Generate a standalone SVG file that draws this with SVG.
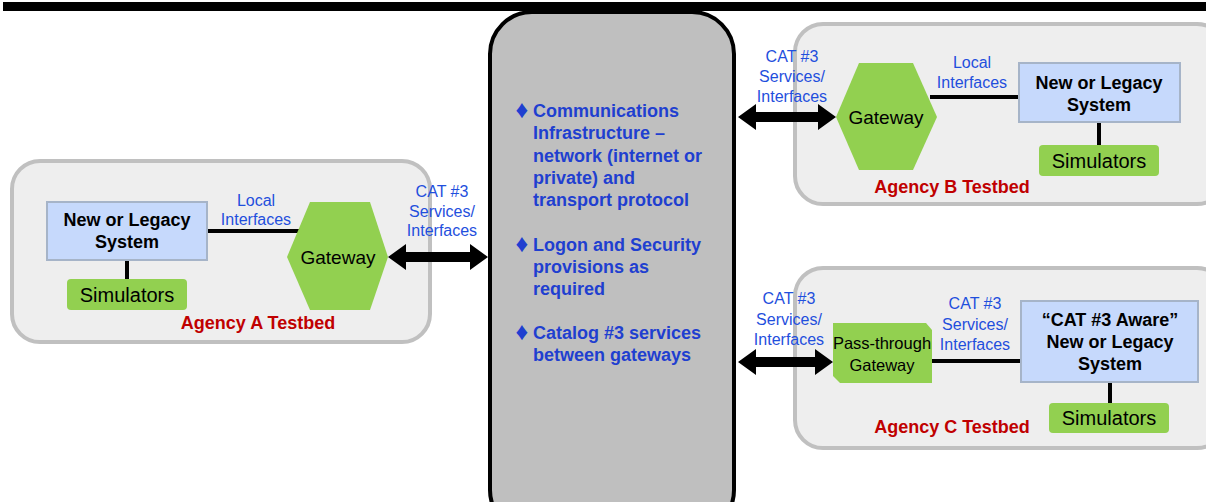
<svg xmlns="http://www.w3.org/2000/svg" width="1206" height="502" viewBox="0 0 1206 502">
<style>
text{font-family:"Liberation Sans",Arial,sans-serif;text-anchor:middle;dominant-baseline:central}
.tb{fill:#eeeeee;stroke:#c0c0c0;stroke-width:4}
.sys{fill:#c6d9fc;stroke:#a6b4c8;stroke-width:2}
.sim{fill:#92d050}
.gw{fill:#92d050}
.ln{stroke:#000;stroke-width:4;fill:none}
.arr{fill:#000}
.b{font-weight:bold;font-size:18px;fill:#000}
.gwt{font-size:19px;fill:#000}
.simt{font-size:20px;fill:#000}
.blue{font-size:16px;fill:#1f4fdd}
.red{font-size:18px;font-weight:bold;fill:#c00000}
.ct{font-size:18px;font-weight:bold;fill:#1f3fd0;text-anchor:start}
.bul{font-size:25px;fill:#1f3fd0;text-anchor:middle}
</style>
<rect x="3" y="2" width="1203" height="9" fill="#000"/>

<g id="agencyA">
<rect class="tb" x="12" y="161" width="418" height="181" rx="28"/>
<text class="red" x="258" y="323">Agency A Testbed</text>
</g>
<g id="agencyB">
<rect class="tb" x="795" y="24" width="430" height="180" rx="28"/>
<text class="red" x="952" y="187">Agency B Testbed</text>
</g>
<g id="agencyC">
<rect class="tb" x="795" y="268" width="430" height="180" rx="28"/>
<text class="red" x="952" y="427">Agency C Testbed</text>
</g>

<g id="center">
<rect x="490" y="12" width="244" height="520" rx="42" fill="#bfbfbf" stroke="#000" stroke-width="4"/>
<text class="bul" x="522" y="109">♦</text>
<text class="ct" x="533" y="111">Communications</text>
<text class="ct" x="533" y="133">Infrastructure –</text>
<text class="ct" x="533" y="156">network (internet or</text>
<text class="ct" x="533" y="178">private) and</text>
<text class="ct" x="533" y="200">transport protocol</text>
<text class="bul" x="522" y="243">♦</text>
<text class="ct" x="533" y="245">Logon and Security</text>
<text class="ct" x="533" y="267">provisions as</text>
<text class="ct" x="533" y="289">required</text>
<text class="bul" x="522" y="331">♦</text>
<text class="ct" x="533" y="333">Catalog #3 services</text>
<text class="ct" x="533" y="355">between gateways</text>
</g>

<g id="connectors">
<line class="ln" x1="127" y1="260" x2="127" y2="279"/>
<line class="ln" x1="207" y1="231" x2="300" y2="231"/>
<line class="ln" x1="930" y1="97" x2="1019" y2="97"/>
<line class="ln" x1="1099" y1="122" x2="1099" y2="145"/>
<line class="ln" x1="932" y1="361" x2="1021" y2="361"/>
<line class="ln" x1="1110" y1="382" x2="1110" y2="403"/>
<polygon class="arr" points="388,257 406,244 406,252 470,252 470,244 488,257 470,270 470,262 406,262 406,270"/>
<polygon class="arr" points="738,117 756,104 756,112 818,112 818,104 836,117 818,130 818,122 756,122 756,130"/>
<polygon class="arr" points="738,362 756,349 756,357 815,357 815,349 833,362 815,375 815,367 756,367 756,375"/>
<text class="blue" x="256" y="200">Local</text>
<text class="blue" x="256" y="219">Interfaces</text>
<text class="blue" x="442" y="191">CAT #3</text>
<text class="blue" x="442" y="211">Services/</text>
<text class="blue" x="442" y="230">Interfaces</text>
<text class="blue" x="972" y="62">Local</text>
<text class="blue" x="972" y="82">Interfaces</text>
<text class="blue" x="792" y="56">CAT #3</text>
<text class="blue" x="792" y="76">Services/</text>
<text class="blue" x="792" y="96">Interfaces</text>
<text class="blue" x="975" y="303">CAT #3</text>
<text class="blue" x="975" y="324">Services/</text>
<text class="blue" x="975" y="344">Interfaces</text>
<text class="blue" x="789" y="298">CAT #3</text>
<text class="blue" x="789" y="319">Services/</text>
<text class="blue" x="789" y="339">Interfaces</text>
</g>

<g id="sysA">
<rect class="sys" x="47" y="202" width="160" height="58"/>
<text class="b" x="127" y="220">New or Legacy</text>
<text class="b" x="127" y="242">System</text>
</g>
<g id="simA">
<rect class="sim" x="67" y="279" width="120" height="31" rx="4"/>
<text class="simt" x="127" y="295">Simulators</text>
</g>
<g id="gwA">
<polygon class="gw" points="310,202 370,202 388,257 370,310 310,310 287,257"/>
<text class="gwt" x="338" y="257">Gateway</text>
</g>

<g id="gwB">
<polygon class="gw" points="859,63 913,63 937,117 913,170 859,170 836,117"/>
<text class="gwt" x="886" y="117">Gateway</text>
</g>
<g id="sysB">
<rect class="sys" x="1019" y="63" width="161" height="59"/>
<text class="b" x="1099" y="83">New or Legacy</text>
<text class="b" x="1099" y="105">System</text>
</g>
<g id="simB">
<rect class="sim" x="1039" y="145" width="120" height="31" rx="4"/>
<text class="simt" x="1099" y="161">Simulators</text>
</g>

<g id="gwC">
<polygon class="gw" points="833,323 926,323 932,330 932,383 840,383 833,376"/>
<text class="gwt" x="882" y="343" style="font-size:16.5px">Pass-through</text>
<text class="gwt" x="882" y="365" style="font-size:16.5px">Gateway</text>
</g>
<g id="sysC">
<rect class="sys" x="1021" y="301" width="177" height="81"/>
<text class="b" x="1110" y="320">“CAT #3 Aware”</text>
<text class="b" x="1110" y="342">New or Legacy</text>
<text class="b" x="1110" y="364">System</text>
</g>
<g id="simC">
<rect class="sim" x="1049" y="403" width="120" height="30" rx="4"/>
<text class="simt" x="1109" y="418">Simulators</text>
</g>
</svg>
